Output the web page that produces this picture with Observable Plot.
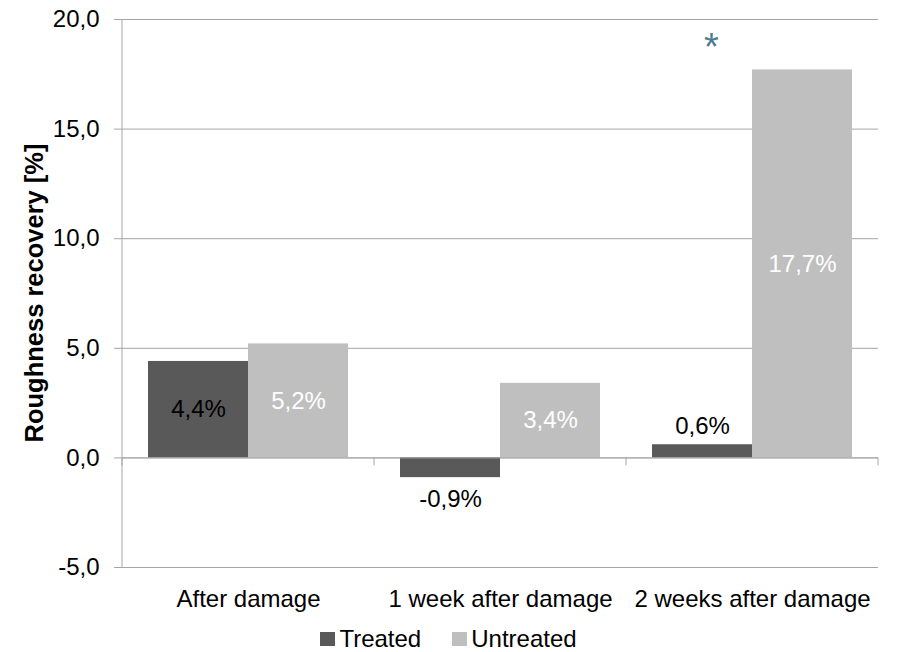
<!DOCTYPE html>
<html>
<head>
<meta charset="utf-8">
<script src="https://cdn.jsdelivr.net/npm/d3@7"></script>
<script src="https://cdn.jsdelivr.net/npm/@observablehq/plot@0.6"></script>
<style>
  html, body { margin: 0; padding: 0; background: #fff; }
  #wrap { position: relative; width: 897px; height: 652px; font-family: "Liberation Sans", Arial, sans-serif; }
  #legend { position: absolute; left: 0; top: 625px; width: 897px; display: flex; justify-content: center; align-items: center; font-size: 24px; line-height: 28px; color: #000; }
  #legend .item { display: flex; align-items: center; }
  #legend .sw { width: 15px; height: 14px; margin-right: 4px; }
  #legend .item + .item { margin-left: 31px; }
</style>
</head>
<body>
<div id="wrap"></div>
<script>
// ---- data ----
const categories = ["After damage", "1 week after damage", "2 weeks after damage"];
const series = ["Treated", "Untreated"];
const treated = [4.4, -0.9, 0.6];
const untreated = [5.2, 3.4, 17.7];
const yTicks = [-5, 0, 5, 10, 15, 20];
const seriesColors = ["#595959", "#bfbfbf"];
const labelColors = ["#000000", "#ffffff"];
const yLabel = "Roughness recovery [%]";
const significantCategories = ["2 weeks after damage"];

// ---- build table ----
const rows = categories.flatMap((c, i) => [
  {category: c, series: series[0], value: treated[i], color: labelColors[0]},
  {category: c, series: series[1], value: untreated[i], color: labelColors[1]}
]);
const comma = v => d3.format(".1f")(v).replace(".", ",").replace("\u2212", "-");
const pct = d => comma(d.value) + "%";
const inside = rows.filter(d => Math.abs(d.value) >= 1);
const smallPos = rows.filter(d => Math.abs(d.value) < 1 && d.value >= 0);
const smallNeg = rows.filter(d => Math.abs(d.value) < 1 && d.value < 0);
const stars = significantCategories.map(c => ({
  category: c, series: series[0],
  value: d3.max(rows.filter(r => r.category === c), r => r.value)
}));

const FONT = "'Liberation Sans', Arial, sans-serif";
const gridColor = "#a6a6a6";

const plot = Plot.plot({
  width: 897,
  height: 614,
  marginLeft: 122,
  marginRight: 19,
  marginTop: 19,
  marginBottom: 47,
  style: {fontFamily: FONT, background: "#fff", overflow: "visible"},
  fx: {domain: categories, padding: 0, label: null},
  x: {domain: series, paddingInner: 0, paddingOuter: 0.256, axis: null},
  y: {domain: [-5, 20]},
  color: {domain: series, range: seriesColors},
  marks: [
    Plot.ruleY(yTicks, {stroke: gridColor, strokeWidth: 1}),
    Plot.barY(rows, {fx: "category", x: "series", y: "value", fill: "series"}),
    Plot.ruleY([0], {stroke: gridColor, strokeWidth: 1}),
    Plot.text(inside, {fx: "category", x: "series", y: d => d.value / 2, text: pct, fill: "color", fontSize: 24}),
    Plot.text(smallPos, {fx: "category", x: "series", y: "value", text: pct, fill: "#000", fontSize: 24, dy: -18}),
    Plot.text(smallNeg, {fx: "category", x: "series", y: "value", text: pct, fill: "#000", fontSize: 24, dy: 22}),
    Plot.text(stars, {fx: "category", x: "series", y: "value", text: () => "*", fill: "#4a7e8f", fontSize: 38, dx: 9, dy: -22}),
    Plot.axisY({ticks: yTicks, tickFormat: comma, tickSize: 8, tickPadding: 15, fontSize: 24, stroke: gridColor, fill: "#000", label: null}),
    Plot.axisFx({anchor: "bottom", tickSize: 0, tickPadding: 22, fontSize: 24, fill: "#000", label: null})
  ]
});

document.getElementById("wrap").appendChild(plot);

// ---- decorations drawn through Plot's scales ----
const fx = plot.scale("fx");
const y = plot.scale("y");
const svg = d3.select(plot);
const bw = fx.bandwidth;
const bounds = categories.map(c => fx.apply(c)).concat([fx.apply(categories[categories.length - 1]) + bw]);
const y0 = y.apply(0);
const yTop = y.apply(d3.max(yTicks)), yBot = y.apply(d3.min(yTicks));
const g = svg.append("g").attr("stroke", gridColor).attr("stroke-width", 1);
g.selectAll("line.b").data(bounds).join("line")
  .attr("x1", d => d).attr("x2", d => d)
  .attr("y1", y0).attr("y2", y0 + 8);
g.append("line")
  .attr("x1", bounds[0]).attr("x2", bounds[0])
  .attr("y1", yTop).attr("y2", yBot);
svg.append("text")
  .attr("transform", `translate(43,${(yTop + yBot) / 2}) rotate(-90)`)
  .attr("text-anchor", "middle")
  .attr("font-family", FONT)
  .attr("font-size", 25.5)
  .attr("font-weight", "bold")
  .attr("fill", "#000")
  .text(yLabel);

// ---- legend ----
const legend = d3.select("#wrap").append("div").attr("id", "legend");
const items = legend.selectAll("div.item").data(series).join("div").attr("class", "item");
items.append("span").attr("class", "sw").style("background", (d, i) => seriesColors[i]);
items.append("span").text(d => d);
</script>
</body>
</html>
